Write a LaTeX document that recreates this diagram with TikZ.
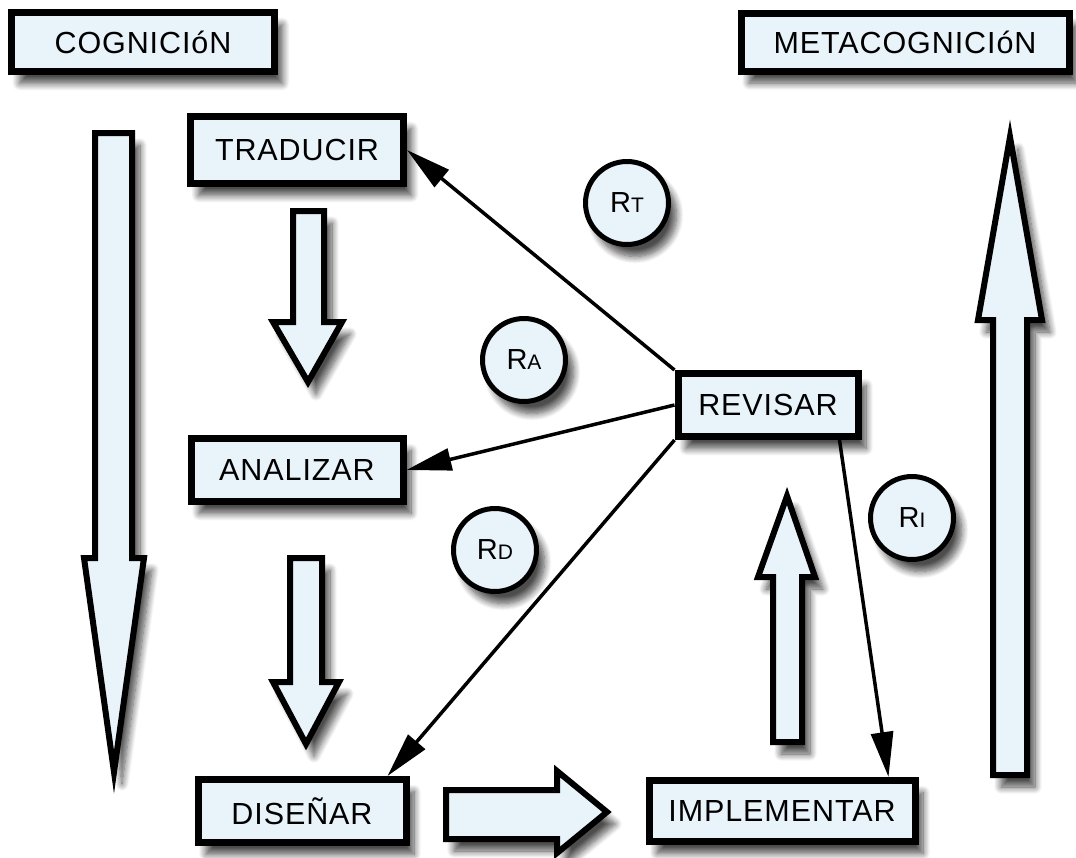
\documentclass[tikz,border=0pt]{standalone}
\usepackage{fontspec}
\setmainfont{Liberation Sans}[LetterSpace=3]
\usetikzlibrary{arrows.meta,shadows.blur}
\definecolor{boxfill}{RGB}{232,243,250}
\newcommand\myrsub[1]{R{\fontsize{21}{21}\selectfont #1}}
\begin{document}
\begin{tikzpicture}[x=1pt,y=-1pt,
  shd/.style={blur shadow={shadow xshift=8pt,shadow yshift=-12pt,shadow blur steps=10,shadow blur radius=7pt,shadow opacity=70}},
  labelbox/.style={draw=black,line width=7pt,fill=boxfill,inner sep=0pt,shd,font=\fontsize{30.5}{34}\selectfont},
  rcircle/.style={circle,draw=black,line width=5pt,fill=boxfill,inner sep=0pt,minimum size=83pt,shd,font=\fontsize{29}{30}\selectfont},
  blockarrow/.style={draw=black,line width=6pt,fill=boxfill,line join=miter,shd},
  link/.style={draw=black,line width=3.5pt,-{Triangle[length=45pt,width=22pt]}}]
\useasboundingbox (0,0) rectangle (1076,857);

% block arrows
\path[blockarrow] (95,133) -- (132,133) -- (132,558) -- (144,558) -- (114,772) -- (84,558) -- (95,558) -- cycle;
\path[blockarrow] (993,775) -- (1027,775) -- (1027,320) -- (1042,320) -- (1010,137) -- (978,320) -- (993,320) -- cycle;
\path[blockarrow] (293,211) -- (324,211) -- (324,322) -- (342,322) -- (308,382) -- (273,322) -- (293,322) -- cycle;
\path[blockarrow] (290,558) -- (322,558) -- (322,682) -- (339,682) -- (306,744) -- (273,682) -- (290,682) -- cycle;
\path[blockarrow] (446,790) -- (557,790) -- (557,771) -- (607,812) -- (557,853) -- (557,839) -- (446,839) -- cycle;
\path[blockarrow] (773,742) -- (802,742) -- (802,577) -- (815,577) -- (787,496) -- (758,577) -- (773,577) -- cycle;

% boxes
\node[labelbox,minimum width=263pt,minimum height=59pt] (cog) at (143,42) {COGNICI\'oN};
\node[labelbox,minimum width=328pt,minimum height=58pt] (meta) at (905,42) {METACOGNICI\'oN};
\node[labelbox,minimum width=213pt,minimum height=67pt] (trad) at (297,150) {TRADUCIR};
\node[labelbox,minimum width=212pt,minimum height=63pt] (anal) at (297,470) {ANALIZAR};
\node[labelbox,minimum width=208pt,minimum height=63pt] (dis) at (302,811) {DISEÑAR};
\node[labelbox,minimum width=266pt,minimum height=61pt] (impl) at (782,811) {IMPLEMENTAR};
\node[labelbox,minimum width=180pt,minimum height=63pt] (rev) at (768,405) {REVISAR};

% circles
\node[rcircle] (rt) at (627,203) {\myrsub{T}};
\node[rcircle] (ra) at (524,360) {\myrsub{A}};
\node[rcircle] (rd) at (495,550) {\myrsub{D}};
\node[rcircle] (ri) at (912,518) {\myrsub{I}};

% connectors
\draw[link] (rev.north west) -- (trad.east);
\draw[link] (rev.west) -- (anal.east);
\draw[link] (rev.south west) -- ([xshift=-22pt]dis.north east);
\draw[link] ([xshift=-22pt]rev.south east) -- ([xshift=-30pt]impl.north east);
\end{tikzpicture}
\end{document}
